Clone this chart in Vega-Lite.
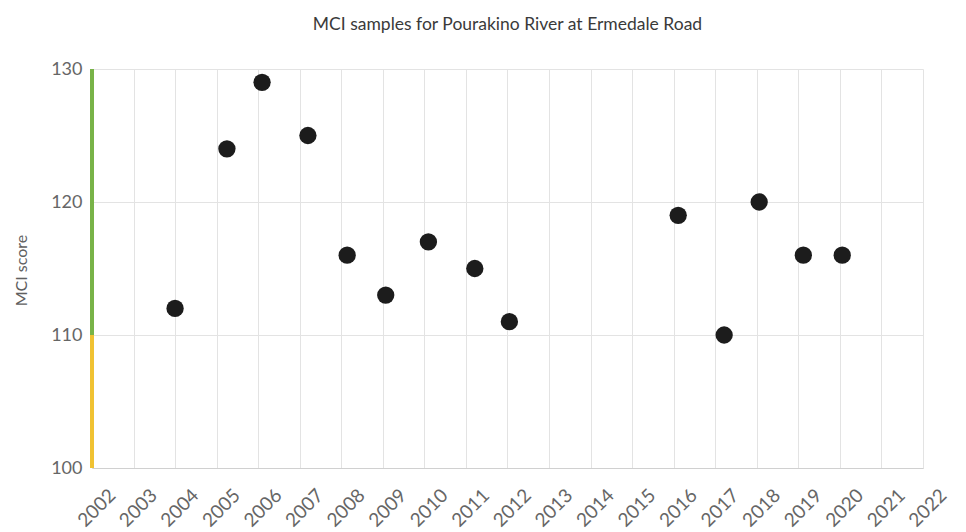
{
  "$schema": "https://vega.github.io/schema/vega-lite/v6.json",
  "width": 831,
  "height": 399,
  "autosize": "none",
  "padding": {"left": 92, "top": 69, "right": 43, "bottom": 64},
  "background": "white",
  "config": {
    "font": "Lato",
    "view": {"stroke": null},
    "axis": {"labelFont": "Lato", "titleFont": "Lato"}
  },
  "title": {
    "text": "MCI samples for Pourakino River at Ermedale Road",
    "fontSize": 17.5,
    "fontWeight": "normal",
    "color": "#3a3a3a",
    "anchor": "middle",
    "offset": 27
  },
  "datasets": {
    "samples": [
      {"date": "2004-01-01", "mci": 112},
      {"date": "2005-04-01", "mci": 124},
      {"date": "2006-02-04", "mci": 129},
      {"date": "2007-03-14", "mci": 125},
      {"date": "2008-02-22", "mci": 116},
      {"date": "2009-01-26", "mci": 113},
      {"date": "2010-02-05", "mci": 117},
      {"date": "2011-03-20", "mci": 115},
      {"date": "2012-01-18", "mci": 111},
      {"date": "2016-02-10", "mci": 119},
      {"date": "2017-03-20", "mci": 110},
      {"date": "2018-01-22", "mci": 120},
      {"date": "2019-02-14", "mci": 116},
      {"date": "2020-01-22", "mci": 116}
    ],
    "bands": [
      {"band": "fair", "low": 100, "high": 110},
      {"band": "good", "low": 110, "high": 130}
    ]
  },
  "layer": [
    {
      "data": {"name": "bands"},
      "mark": {"type": "rule", "strokeWidth": 4},
      "encoding": {
        "x": {"datum": {"year": 2002, "month": 1, "date": 1}, "type": "temporal"},
        "y": {"field": "low", "type": "quantitative"},
        "y2": {"field": "high"},
        "color": {
          "field": "band",
          "type": "nominal",
          "scale": {"domain": ["fair", "good"], "range": ["#f0c232", "#78b348"]},
          "legend": null
        }
      }
    },
    {
      "data": {"name": "samples"},
      "mark": {"type": "circle", "size": 300, "opacity": 1, "color": "#1c1c1c"},
      "encoding": {
        "x": {
          "field": "date",
          "type": "temporal",
          "scale": {"domain": [{"year": 2002, "month": 1, "date": 1}, {"year": 2022, "month": 1, "date": 1}]},
          "axis": {
            "title": null,
            "format": "%Y",
            "tickCount": {"interval": "year", "step": 1},
            "labelAngle": -45,
            "labelAlign": "right",
            "labelBaseline": "middle",
            "labelOffset": 20,
            "labelPadding": 24,
            "labelFontSize": 19,
            "labelColor": "#666666",
            "labelOverlap": false,
            "labelFlush": false,
            "ticks": false,
            "domainColor": "#d0d0d0",
            "grid": true,
            "gridColor": "#e3e3e3"
          }
        },
        "y": {
          "field": "mci",
          "type": "quantitative",
          "scale": {"domain": [100, 130], "nice": false, "zero": false},
          "axis": {
            "title": "MCI score",
            "titleFontSize": 16,
            "titleFontWeight": "normal",
            "titleColor": "#606060",
            "titleX": -71,
            "titleY": 201,
            "titleAngle": -90,
            "titleAlign": "center",
            "titleBaseline": "middle",
            "values": [100, 110, 120, 130],
            "labelFontSize": 18,
            "labelColor": "#666666",
            "labelPadding": 10,
            "ticks": false,
            "domain": false,
            "grid": true,
            "gridColor": "#e3e3e3"
          }
        }
      }
    }
  ]
}
